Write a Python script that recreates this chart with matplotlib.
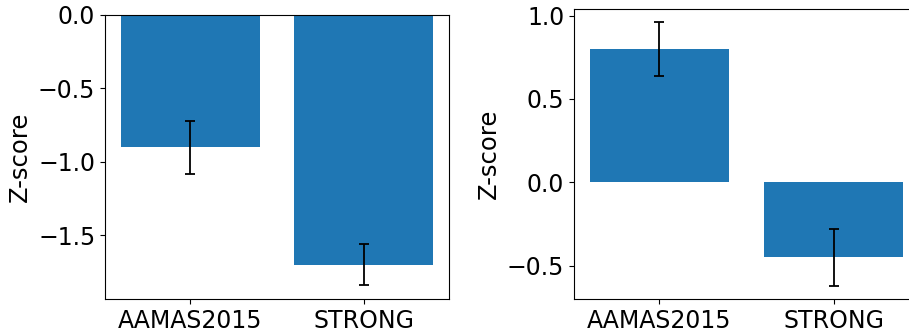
import matplotlib
matplotlib.use("Agg")
import matplotlib.pyplot as plt

categories = ["AAMAS2015", "STRONG"]

left_means = [-0.90, -1.70]
left_errs = [0.18, 0.14]

right_means = [0.80, -0.45]
right_errs = [0.16, 0.17]

W, H = 909, 332
fig = plt.figure(figsize=(W / 100, H / 100), dpi=100)

ax1 = fig.add_axes([105 / W, 33 / H, 344 / W, 284 / H])
ax2 = fig.add_axes([574 / W, 33 / H, 345 / W, 290 / H])

for ax, means, errs in ((ax1, left_means, left_errs), (ax2, right_means, right_errs)):
    ax.bar(categories, means, yerr=errs, color="#1f77b4", capsize=3.6,
           error_kw=dict(ecolor="black", elinewidth=1.3, capthick=1.3))
    ax.set_ylabel("Z-score", fontsize=17.5)
    ax.tick_params(axis="both", labelsize=17)

fig.savefig("out.png", dpi=100)
